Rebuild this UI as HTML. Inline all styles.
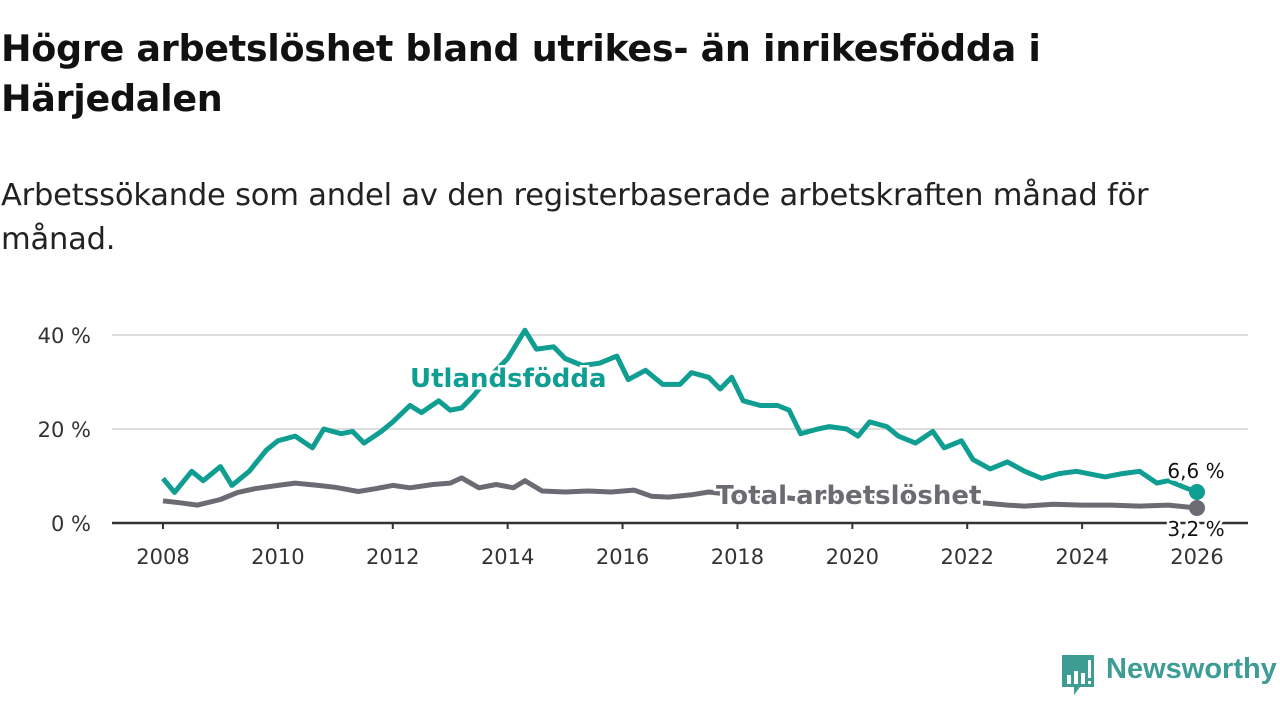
<!DOCTYPE html>
<html><head><meta charset="utf-8"><style>
body{margin:0;width:1280px;height:720px;background:#fff;overflow:hidden;font-family:"DejaVu Sans","Liberation Sans",sans-serif;color:#111}
#title{position:absolute;left:1px;top:24px;font-size:36.5px;font-weight:bold;line-height:50px;white-space:nowrap;letter-spacing:-0.3px}
#sub{position:absolute;left:1px;top:174px;font-size:30.5px;line-height:44px;white-space:nowrap;color:#222;letter-spacing:-0.2px}
svg{position:absolute;left:0;top:0}
</style></head><body>
<div id="title">Högre arbetslöshet bland utrikes- än inrikesfödda i<br>Härjedalen</div>
<div id="sub">Arbetssökande som andel av den registerbaserade arbetskraften månad för<br>månad.</div>
<svg id="chart" width="1280" height="720"></svg>
<script>
const yTicks=[0,20,40];
const xTicks=[2008,2010,2012,2014,2016,2018,2020,2022,2024,2026];
const utlX=[2008.0,2008.2,2008.5,2008.7,2009.0,2009.2,2009.5,2009.8,2010.0,2010.3,2010.6,2010.8,2011.1,2011.3,2011.5,2011.8,2012.0,2012.3,2012.5,2012.8,2013.0,2013.2,2013.4,2013.6,2014.0,2014.3,2014.5,2014.8,2015.0,2015.3,2015.6,2015.9,2016.1,2016.4,2016.7,2017.0,2017.2,2017.5,2017.7,2017.9,2018.1,2018.4,2018.7,2018.9,2019.1,2019.4,2019.6,2019.9,2020.1,2020.3,2020.6,2020.8,2021.1,2021.4,2021.6,2021.9,2022.1,2022.4,2022.7,2023.0,2023.3,2023.6,2023.9,2024.1,2024.4,2024.7,2025.0,2025.3,2025.5,2025.8,2026.0];
const utlY=[9.5,6.5,11,9,12,8,11,15.5,17.5,18.5,16,20,19,19.5,17,19.5,21.5,25,23.5,26,24,24.5,27,30,35,41,37,37.5,35,33.5,34,35.5,30.5,32.5,29.5,29.5,32,31,28.5,31,26,25,25,24,19,20,20.5,20,18.5,21.5,20.5,18.5,17,19.5,16,17.5,13.5,11.5,13,11,9.5,10.5,11,10.5,9.8,10.5,11,8.5,9,7.5,6.6];
const totX=[2008.0,2008.3,2008.6,2009.0,2009.3,2009.6,2010.0,2010.3,2010.7,2011.0,2011.4,2011.7,2012.0,2012.3,2012.7,2013.0,2013.2,2013.5,2013.8,2014.1,2014.3,2014.6,2015.0,2015.4,2015.8,2016.2,2016.5,2016.8,2017.2,2017.5,2017.8,2018.5,2019.0,2019.5,2020.0,2020.5,2021.0,2021.5,2022.0,2022.7,2023.0,2023.5,2024.0,2024.5,2025.0,2025.5,2026.0];
const totY=[4.7,4.3,3.8,5,6.5,7.3,8,8.5,8,7.6,6.7,7.3,8,7.5,8.2,8.5,9.6,7.5,8.2,7.5,9,6.8,6.6,6.8,6.6,7,5.7,5.5,6,6.6,6.2,5.8,5.2,5.5,5.8,5.5,5.2,5,4.6,3.8,3.6,4,3.8,3.8,3.6,3.8,3.2];
const NS='http://www.w3.org/2000/svg',svg=document.getElementById('chart');
const X0=163,X1=1197,Y0=523,PY=4.7;
const sx=v=>X0+(v-2008)*(X1-X0)/18, sy=v=>Y0-v*PY;
function mk(t,a,p){const e=document.createElementNS(NS,t);for(const k in a)e.setAttribute(k,a[k]);(p||svg).appendChild(e);return e;}
yTicks.forEach(v=>{
 if(v>0){const g=mk('line',{x1:112,x2:1248,y1:sy(v),y2:sy(v),stroke:'#ddd','stroke-width':2});
 
 }
 const t=mk('text',{x:91,y:sy(v)+8,'text-anchor':'end','font-size':21,fill:'#333'});t.textContent=v+' %';
 
 
});
const ax=mk('line',{x1:112,x2:1248,y1:Y0,y2:Y0,stroke:'#333','stroke-width':2.5});


xTicks.forEach(v=>{
 mk('line',{x1:sx(v),x2:sx(v),y1:Y0,y2:Y0+6,stroke:'#333','stroke-width':2});
 const t=mk('text',{x:sx(v),y:564,'text-anchor':'middle','font-size':21,fill:'#333'});t.textContent=v;
 
 
});
function line(xs,ys,col,name){
 const d=xs.map((x,i)=>(i?'L':'M')+sx(x).toFixed(1)+','+sy(ys[i]).toFixed(1)).join('');
 const p=mk('path',{d:d,fill:'none',stroke:col,'stroke-width':5,'stroke-linejoin':'round'});
 
 
 const n=xs.length-1;
 const c=mk('circle',{cx:sx(xs[n]),cy:sy(ys[n]),r:8,fill:col});
 
 
}
line(totX,totY,'#6c6b73','total-line');
line(utlX,utlY,'#0f9e91','utlandsfodda-line');
function lab(x,y,txt,col,size,w,name,anchor){
 const t=mk('text',{x:x,y:y,'font-size':size,'font-weight':w,fill:col,stroke:'#fff','stroke-width':5,'paint-order':'stroke','text-anchor':anchor||'start'});
 t.textContent=txt;
 
 
}
lab(410,387,'Utlandsfödda','#0f9e91',26,'bold','series-label-utlandsfodda');
lab(716,504,'Total arbetslöshet','#6c6b73',26,'bold','series-label-total');
lab(1196,478,'6,6 %','#111',20,'normal','end-value-utlandsfodda','middle');
lab(1196,536,'3,2 %','#111',20,'normal','end-value-total','middle');
</script>
<div style="position:absolute;left:1060px;top:655px;font-family:'Liberation Sans',sans-serif">
<svg width="36" height="42" viewBox="0 0 36 42" style="position:absolute;left:0;top:0">
<path d="M2 0H34V32H20L14 40V32H2Z" fill="#3d9c94"/>
<rect x="7" y="20" width="4" height="9" fill="#fff"/><rect x="14" y="16" width="4" height="13" fill="#fff"/><rect x="21" y="18" width="4" height="11" fill="#fff"/><rect x="28" y="5" width="3" height="18" fill="#fff"/><rect x="28" y="26" width="3" height="3" fill="#fff"/>
</svg>
<div style="position:absolute;left:46px;top:-2px;font-size:29px;font-weight:bold;color:#3d9c94;white-space:nowrap">Newsworthy</div>
</div>
</body></html>
